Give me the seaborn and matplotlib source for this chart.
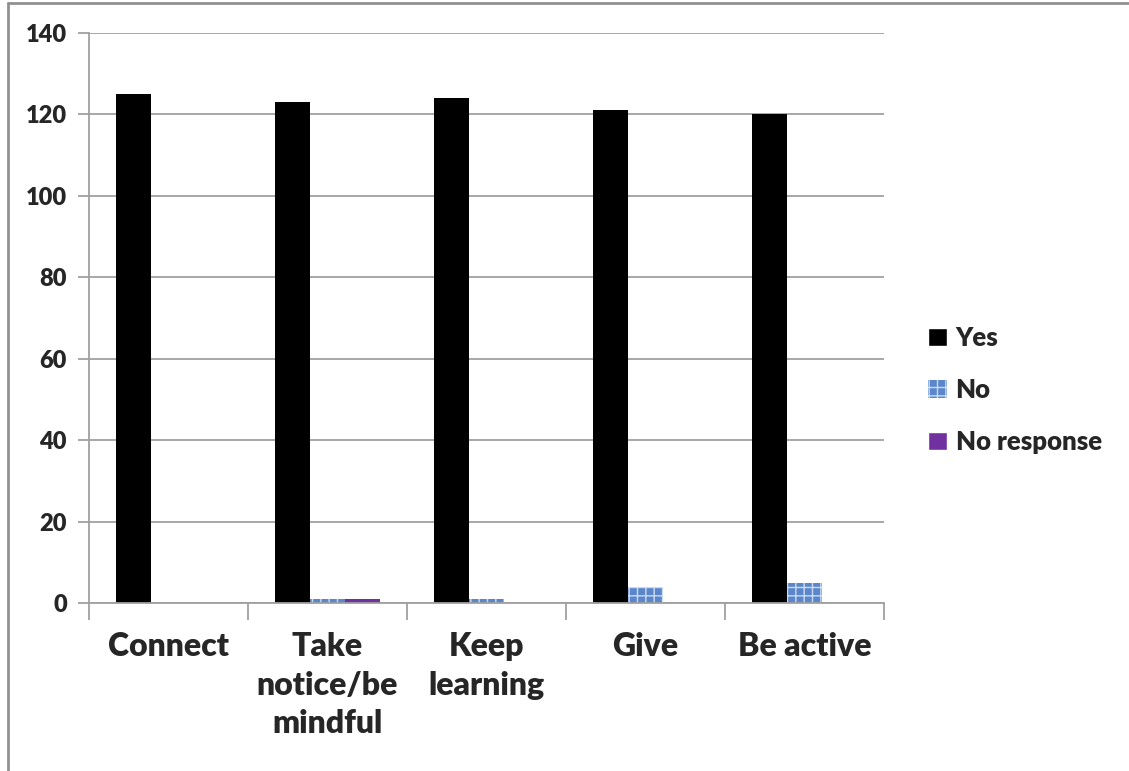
import matplotlib
matplotlib.use("Agg")
import matplotlib.pyplot as plt
import seaborn as sns
import pandas as pd
from matplotlib.patches import Patch
from matplotlib.lines import Line2D

categories = ["Connect", "Take\nnotice/be\nmindful", "Keep\nlearning", "Give", "Be active"]
series = ["Yes", "No", "No response"]
yes_vals = [125, 123, 124, 121, 120]
no_vals = [0, 1, 1, 4, 5]
noresp_vals = [0, 1, 0, 0, 0]
y_ticks = [0, 20, 40, 60, 80, 100, 120, 140]

rows = []
for i, c in enumerate(categories):
    rows.append((c, "Yes", yes_vals[i]))
    rows.append((c, "No", no_vals[i]))
    rows.append((c, "No response", noresp_vals[i]))
df = pd.DataFrame(rows, columns=["category", "series", "value"])

sns.set_theme(style="white")
plt.rcParams['font.family'] = ['Lato', 'DejaVu Sans']
plt.rcParams['hatch.color'] = '#c9dbf3'
plt.rcParams['hatch.linewidth'] = 1.0

colors = {"Yes": "#000000", "No": "#5b86cc", "No response": "#7030a0"}

fig = plt.figure(figsize=(11.29, 7.71), dpi=100)
ax = fig.add_axes([89/1129, 1-603/771, (884-89)/1129, (603-33)/771])

sns.barplot(data=df, x="category", y="value", hue="series", order=categories,
            hue_order=series, palette=colors, width=0.66, ax=ax, legend=False,
            saturation=1, linewidth=0)

n = len(categories)
for k, patch in enumerate(ax.patches):
    if n <= k < 2*n:
        patch.set_hatch('++')
        patch.set_edgecolor('#c9dbf3')
        patch.set_linewidth(0)

ax.set_xlim(-0.5, n - 0.5)
ax.set_ylim(0, 140)
ax.set_yticks(y_ticks)
ax.set_xlabel("")
ax.set_ylabel("")
ax.yaxis.grid(True, color="#a0a0a0", linewidth=1.3)
ax.set_axisbelow(True)
for s in ["top", "right"]:
    ax.spines[s].set_visible(False)
for s in ["left", "bottom"]:
    ax.spines[s].set_color("#a0a0a0")
    ax.spines[s].set_linewidth(1.3)

ax.tick_params(axis="y", which="major", length=8, color="#a0a0a0", width=1.3,
               labelsize=17, pad=8, left=True)
for lab in ax.get_yticklabels():
    lab.set_fontweight("heavy")
ax.set_xticks(range(n))
ax.set_xticklabels(categories, fontsize=23, fontweight="heavy", linespacing=1.4,
                   va="top")
ax.tick_params(axis="x", which="major", length=0, pad=21)
ax.set_xticks([i - 0.5 for i in range(n + 1)], minor=True)
ax.tick_params(axis="x", which="minor", length=12, color="#a0a0a0", width=1.3,
               bottom=True)

handles = [Patch(facecolor=colors["Yes"]),
           Patch(facecolor=colors["No"], hatch='++', edgecolor='#c9dbf3', linewidth=0),
           Patch(facecolor=colors["No response"])]
leg = fig.legend(handles, series, loc="center left", bbox_to_anchor=(905/1129, 1-390/771),
                 frameon=False, handlelength=0.72, handleheight=0.72,
                 handletextpad=0.35, labelspacing=1.1, prop={"weight": "heavy", "size": 18.5})

fig.add_artist(Line2D([8/1129, 8/1129], [0, 1-3/771], transform=fig.transFigure,
                      color="#909090", linewidth=2))
fig.add_artist(Line2D([8/1129, 1], [1-3/771, 1-3/771], transform=fig.transFigure,
                      color="#909090", linewidth=2))

fig.savefig("out.png", dpi=100)
